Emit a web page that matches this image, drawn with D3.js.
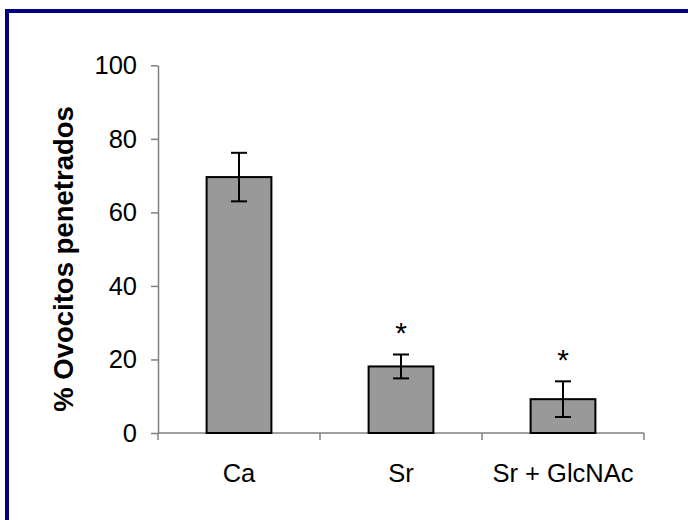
<!DOCTYPE html>
<html>
<head>
<meta charset="utf-8">
<script src="https://cdn.jsdelivr.net/npm/d3@7"></script>
<style>
  html, body { margin: 0; padding: 0; background: #fff; }
  svg { display: block; }
</style>
</head>
<body>
<script>
// Penetration percentage per treatment, with error half-widths
const categories = ["Ca", "Sr", "Sr + GlcNAc"];
const values = [69.6, 18.1, 9.2];
const errors = [6.6, 3.25, 4.85];
const significant = [false, true, true];
const yTicks = [0, 20, 40, 60, 80, 100];
const yTitle = "% Ovocitos penetrados";

const W = 688, H = 520;
const svg = d3.select("body").append("svg").attr("width", W).attr("height", H);

// Frame edges
const navy = "#000080";
svg.append("rect").attr("x", 5).attr("y", 9).attr("width", W - 5).attr("height", 4).attr("fill", navy);
svg.append("rect").attr("x", 5).attr("y", 9).attr("width", 4).attr("height", H - 9).attr("fill", navy);

const plot = { left: 158, right: 644, top: 65.3, bottom: 433 };
const font = "Arial, 'Liberation Sans', sans-serif";
const axisColor = "#808080";
const labelSize = 25.5;

const y = d3.scaleLinear().domain([0, 100]).range([plot.bottom, plot.top]);
const x = d3.scaleBand().domain(categories).range([plot.left, plot.right]).padding(0);
const barW = x.bandwidth() * 0.4;

// Y axis
const yAxis = svg.append("g").attr("transform", `translate(${plot.left},0)`)
  .call(d3.axisLeft(y).tickValues(yTicks).tickSize(7).tickPadding(14).tickSizeOuter(0));
yAxis.select(".domain").attr("stroke", axisColor).attr("stroke-width", 1.5);
yAxis.selectAll(".tick line").attr("stroke", axisColor).attr("stroke-width", 1.5);
yAxis.selectAll(".tick text").attr("font-family", font).attr("font-size", labelSize).attr("fill", "#000");

// X axis line with ticks at category boundaries
svg.append("line").attr("x1", plot.left).attr("x2", plot.right).attr("y1", plot.bottom).attr("y2", plot.bottom)
  .attr("stroke", axisColor).attr("stroke-width", 1.5);
const bounds = [plot.left].concat(categories.map(c => x(c) + x.bandwidth()));
svg.selectAll("line.xtick").data(bounds).join("line").attr("class", "xtick")
  .attr("x1", d => d).attr("x2", d => d).attr("y1", plot.bottom).attr("y2", plot.bottom + 7)
  .attr("stroke", axisColor).attr("stroke-width", 1.5);

// Category labels
svg.selectAll("text.cat").data(categories).join("text").attr("class", "cat")
  .attr("x", d => x(d) + x.bandwidth() / 2).attr("y", plot.bottom + 49)
  .attr("text-anchor", "middle").attr("font-family", font).attr("font-size", labelSize)
  .text(d => d);

// Y title
svg.append("text")
  .attr("transform", `translate(73,${(105 + 413) / 2}) rotate(-90)`)
  .attr("text-anchor", "middle").attr("font-family", font).attr("font-size", 27.5)
  .attr("font-weight", "bold").text(yTitle);

const data = categories.map((c, i) => ({ c, v: values[i], e: errors[i], s: significant[i] }));

// Bars
svg.selectAll("rect.bar").data(data).join("rect").attr("class", "bar")
  .attr("x", d => x(d.c) + (x.bandwidth() - barW) / 2)
  .attr("y", d => y(d.v)).attr("width", barW).attr("height", d => y(0) - y(d.v))
  .attr("fill", "#999999").attr("stroke", "#000").attr("stroke-width", 2);

// Error bars
const cap = 8;
const eb = svg.selectAll("g.err").data(data).join("g").attr("class", "err")
  .attr("transform", d => `translate(${x(d.c) + x.bandwidth() / 2},0)`);
eb.append("line").attr("x1", 0).attr("x2", 0).attr("y1", d => y(d.v + d.e)).attr("y2", d => y(d.v - d.e))
  .attr("stroke", "#000").attr("stroke-width", 2);
eb.append("line").attr("x1", -cap).attr("x2", cap).attr("y1", d => y(d.v + d.e)).attr("y2", d => y(d.v + d.e))
  .attr("stroke", "#000").attr("stroke-width", 2);
eb.append("line").attr("x1", -cap).attr("x2", cap).attr("y1", d => y(d.v - d.e)).attr("y2", d => y(d.v - d.e))
  .attr("stroke", "#000").attr("stroke-width", 2);

// Significance marks
svg.selectAll("text.sig").data(data.filter(d => d.s)).join("text").attr("class", "sig")
  .attr("x", d => x(d.c) + x.bandwidth() / 2).attr("y", d => y(d.v + d.e) - 11)
  .attr("text-anchor", "middle").attr("font-family", font).attr("font-size", 30)
  .text("*");
</script>
</body>
</html>
